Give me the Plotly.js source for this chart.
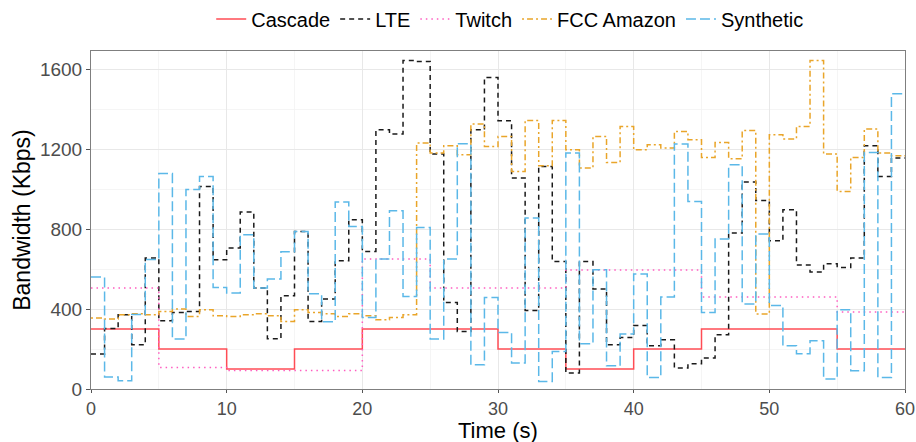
<!DOCTYPE html>
<html>
<head>
<meta charset="utf-8">
<script src="https://cdn.plot.ly/plotly-3.0.1.min.js"></script>
<style>
  html, body { margin: 0; padding: 0; background: #ffffff; }
  #chart { width: 916px; height: 442px; }
</style>
</head>
<body>
<div id="chart"></div>
<script>
// Time in seconds (one sample per second; last point closes the step at 60 s)
const time = [0,1,2,3,4,5,6,7,8,9,10,11,12,13,14,15,16,17,18,19,20,21,22,23,24,25,26,27,28,29,
              30,31,32,33,34,35,36,37,38,39,40,41,42,43,44,45,46,47,48,49,50,51,52,53,54,55,56,57,58,59,60];

// Cascade and Twitch change only at these times (s)
const cascadeTime = [0, 5, 10, 15, 20, 30, 35, 40, 45, 55, 60];
const cascadeKbps = [300, 200, 100, 200, 300, 200, 100, 200, 300, 200, 200];

const twitchTime = [0, 5, 10, 20, 25, 35, 45, 55, 60];
const twitchKbps = [505, 108, 92, 650, 505, 595, 460, 385, 385];

const lteKbps = [175,303,371,221,655,341,383,388,1013,646,
                 705,885,505,251,466,788,338,450,641,846,
                 688,1296,1275,1643,1638,1175,433,287,1296,1558,
                 1341,1055,393,1113,638,80,638,500,221,258,
                 318,216,246,105,126,155,271,780,1035,942,
                 741,896,620,585,626,608,655,1216,1063,1155,1155];

const fccKbps = [355,350,371,376,371,388,400,363,396,366,
                 363,371,376,366,338,396,383,376,363,376,
                 366,346,358,371,1230,1180,1216,1171,1325,1213,
                 1263,1088,1343,1116,1343,1196,1105,1263,1133,1313,
                 1196,1221,1205,1288,1246,1158,1233,1151,1293,375,
                 1271,1250,1313,1643,1175,988,1158,1300,1180,1166,1166];

const syntheticKbps = [560,60,41,372,647,1077,250,997,1063,508,
                       480,771,505,550,686,788,476,336,935,813,
                       358,650,891,463,808,250,650,1226,121,458,
                       283,130,855,38,188,1180,226,596,116,275,
                       575,58,460,1225,938,383,750,1121,425,775,
                       418,216,176,241,50,396,91,1183,58,1476,1476];

const seriesNames = ['Cascade', 'LTE', 'Twitch', 'FCC Amazon', 'Synthetic'];
const xTitle = 'Time (s)';
const yTitle = 'Bandwidth (Kbps)';

const W = 1.5;
const traces = [
  {x: cascadeTime, y: cascadeKbps, name: seriesNames[0], mode: 'lines',
   line: {shape: 'hv', color: '#ff4d55', width: W, dash: 'solid'}},
  {x: time, y: lteKbps, name: seriesNames[1], mode: 'lines',
   line: {shape: 'hv', color: '#1a1a1a', width: W, dash: '5px,4px'}},
  {x: twitchTime, y: twitchKbps, name: seriesNames[2], mode: 'lines',
   line: {shape: 'hv', color: '#ff5cc0', width: W, dash: '1.5px,4px'}},
  {x: time, y: fccKbps, name: seriesNames[3], mode: 'lines',
   line: {shape: 'hv', color: '#e9a52a', width: W, dash: '2px,3px,6px,3px'}},
  {x: time, y: syntheticKbps, name: seriesNames[4], mode: 'lines',
   line: {shape: 'hv', color: '#5bb8e8', width: W, dash: '10px,4px'}}
];

const FAM = 'Liberation Sans, Arial, sans-serif';
const yTickFont = {family: FAM, size: 19, color: '#4d4d4d'};
const xTickFont = {family: FAM, size: 18, color: '#4d4d4d'};
const titleFont = {family: FAM, size: 23, color: '#000000'};
const xTitleFont = {family: FAM, size: 22, color: '#000000'};

const layout = {
  width: 916, height: 442,
  margin: {l: 91, r: 11, t: 51, b: 53, autoexpand: false},
  paper_bgcolor: '#ffffff', plot_bgcolor: '#ffffff',
  showlegend: true,
  legend: {orientation: 'h', x: 0.515, xanchor: 'center', y: 1.095, yanchor: 'middle',
           font: {family: FAM, size: 20, color: '#000000'},
           itemwidth: 30, tracegroupgap: 0, bgcolor: 'rgba(0,0,0,0)'},
  xaxis: {
    range: [0, 60], dtick: 10, tick0: 0,
    showgrid: true, gridcolor: '#e8e8e8', gridwidth: 1,
    minor: {dtick: 5, showgrid: true, gridcolor: '#f3f3f3', gridwidth: 0.8},
    zeroline: false, showline: true, linecolor: '#7f7f7f', linewidth: 1, mirror: true,
    ticks: 'outside', ticklen: 3, tickcolor: '#555555', tickwidth: 1,
    tickfont: xTickFont, automargin: false
  },
  yaxis: {
    range: [0, 1690], dtick: 400, tick0: 0,
    showgrid: true, gridcolor: '#e8e8e8', gridwidth: 1,
    minor: {dtick: 200, showgrid: true, gridcolor: '#f3f3f3', gridwidth: 0.8},
    zeroline: false, showline: true, linecolor: '#7f7f7f', linewidth: 1, mirror: true,
    ticks: 'outside', ticklen: 4, tickcolor: '#555555', tickwidth: 1,
    tickfont: yTickFont, automargin: false,
    title: {text: yTitle, font: titleFont, standoff: 2}
  },
  annotations: [
    {text: xTitle, xref: 'paper', yref: 'paper', x: 0.5, y: -0.157,
     xanchor: 'center', yanchor: 'bottom', yshift: -2, showarrow: false, font: xTitleFont,
     borderpad: 0}
  ]
};

Plotly.newPlot('chart', traces, layout, {displayModeBar: false, staticPlot: true});
</script>
</body>
</html>
